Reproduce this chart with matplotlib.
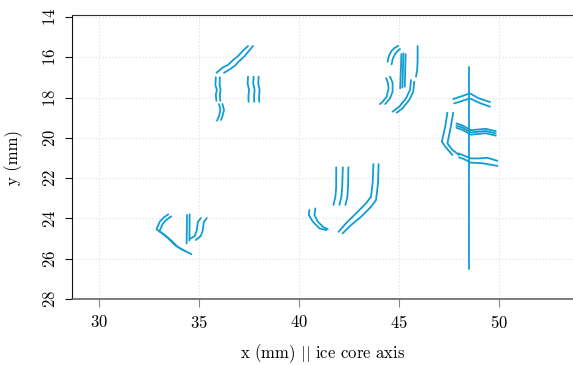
import matplotlib
matplotlib.use("Agg")
import matplotlib.pyplot as plt

plt.rcParams['font.family'] = 'serif'
plt.rcParams['font.serif'] = ['cmr10', 'DejaVu Serif']
plt.rcParams['mathtext.fontset'] = 'cm'
plt.rcParams['axes.formatter.use_mathtext'] = True

LINE_COLOR = '#109dd2'

# crack traces, each as (x list, y list) in mm
cracks = [
    # group top-left
    ([35.87, 36.20, 36.45, 36.70, 36.95, 37.20, 37.45], [16.77, 16.50, 16.38, 16.14, 15.94, 15.67, 15.44]),
    ([36.25, 36.53, 36.78, 37.03, 37.28, 37.53, 37.70], [16.77, 16.60, 16.43, 16.17, 15.94, 15.64, 15.44]),
    ([35.84, 35.82, 35.89, 35.84, 35.87], [16.99, 17.38, 17.62, 17.87, 18.16]),
    ([36.04, 36.03, 36.08, 36.04, 36.06], [16.99, 17.38, 17.62, 17.87, 18.16]),
    ([36.00, 36.07, 36.00, 35.90], [18.32, 18.62, 18.92, 19.15]),
    ([36.17, 36.25, 36.17, 36.10], [18.32, 18.62, 18.92, 19.11]),
    ([37.45, 37.43, 37.50, 37.47, 37.48], [16.96, 17.29, 17.62, 17.96, 18.21]),
    ([37.73, 37.71, 37.78, 37.75, 37.76], [16.96, 17.29, 17.62, 17.96, 18.21]),
    ([37.98, 37.96, 38.03, 38.00, 38.01], [16.96, 17.29, 17.62, 17.96, 18.21]),
    # group top-middle
    ([44.43, 44.48, 44.60, 44.76, 44.96], [16.22, 15.97, 15.72, 15.55, 15.43]),
    ([44.63, 44.68, 44.80, 44.93, 45.05], [16.35, 16.10, 15.84, 15.69, 15.59]),
    ([45.12, 45.06], [15.84, 17.54]),
    ([45.22, 45.17], [15.80, 17.50]),
    ([45.33, 45.29], [15.84, 17.46]),
    ([45.93, 45.93, 45.91, 45.85], [15.44, 16.14, 16.63, 16.96]),
    ([44.35, 44.43, 44.48, 44.38, 44.18, 44.05], [17.04, 17.21, 17.54, 17.96, 18.21, 18.32]),
    ([44.55, 44.68, 44.68, 44.55, 44.31], [16.96, 17.26, 17.71, 18.04, 18.32]),
    ([45.60, 45.55, 45.35, 45.01, 44.68], [17.13, 17.62, 18.04, 18.45, 18.70]),
    ([45.76, 45.71, 45.51, 45.18, 44.88], [17.21, 17.71, 18.12, 18.53, 18.75]),
    # group right
    ([48.50, 48.50], [16.50, 26.50]),
    ([47.71, 48.17, 48.54, 49.00, 49.55], [18.07, 17.92, 17.79, 18.04, 18.22]),
    ([47.76, 48.17, 48.54, 49.09, 49.55], [18.29, 18.16, 18.04, 18.29, 18.45]),
    ([47.42, 47.31, 47.14, 47.34, 47.67], [18.75, 19.45, 20.19, 20.47, 20.85]),
    ([47.71, 47.59, 47.42, 47.64, 48.00], [18.75, 19.45, 20.27, 20.57, 20.85]),
    ([47.87, 48.17, 48.59, 49.00, 49.34, 49.84], [19.28, 19.38, 19.62, 19.58, 19.55, 19.67]),
    ([47.87, 48.17, 48.59, 49.00, 49.34, 49.84], [19.39, 19.49, 19.73, 19.69, 19.66, 19.78]),
    ([47.87, 48.17, 48.59, 49.00, 49.34, 49.84], [19.50, 19.60, 19.84, 19.80, 19.77, 19.89]),
    ([47.97, 48.17, 48.59, 49.00, 49.42, 49.92], [20.77, 20.85, 21.02, 21.02, 20.99, 21.14]),
    ([48.00, 48.25, 48.59, 49.17, 49.92], [20.97, 21.05, 21.23, 21.26, 21.39]),
    # group bottom-left
    ([33.46, 33.24, 33.04, 32.87, 33.12, 33.46, 33.79, 34.20, 34.62], [23.80, 23.95, 24.16, 24.54, 24.71, 24.99, 25.32, 25.57, 25.77]),
    ([33.61, 33.39, 33.19, 33.02, 33.27, 33.61, 33.94, 34.30], [23.90, 24.05, 24.26, 24.64, 24.81, 25.09, 25.42, 25.62]),
    ([34.40, 34.38], [23.83, 25.24]),
    ([34.53, 34.52], [23.80, 25.10]),
    ([35.09, 34.94, 34.89, 34.79, 34.54], [23.98, 24.18, 24.58, 24.87, 25.02]),
    ([35.39, 35.24, 35.19, 35.09, 34.84], [23.98, 24.18, 24.58, 24.87, 25.07]),
    # group centre
    ([41.86, 41.86, 41.82, 41.72], [21.46, 22.43, 22.92, 23.33]),
    ([42.19, 42.16, 42.12, 42.02], [21.46, 22.43, 22.92, 23.33]),
    ([42.47, 42.45, 42.42, 42.32], [21.46, 22.43, 22.92, 23.33]),
    ([43.72, 43.68, 43.60, 43.35, 42.85, 42.35, 41.98], [21.30, 22.26, 22.92, 23.25, 23.75, 24.24, 24.66]),
    ([43.98, 43.95, 43.85, 43.60, 43.10, 42.60, 42.18], [21.30, 22.26, 23.09, 23.42, 23.92, 24.33, 24.74]),
    ([40.52, 40.49, 40.69, 41.02, 41.36], [23.58, 23.83, 24.16, 24.49, 24.58]),
    ([40.82, 40.77, 40.94, 41.19, 41.44], [23.50, 23.83, 24.16, 24.41, 24.54]),
]

x_ticks = [30, 35, 40, 45, 50]
y_ticks = [14, 16, 18, 20, 22, 24, 26, 28]

fig = plt.figure(figsize=(5.73, 3.65), dpi=100)
ax = fig.add_axes([0.1257, 0.1808, 0.8743, 0.7781])

for xs, ys in cracks:
    ax.plot(xs, ys, color=LINE_COLOR, lw=1.3, solid_capstyle='round')

ax.set_xlim(28.65, 53.7)
ax.set_ylim(28, 13.9)
ax.set_xticks(x_ticks)
ax.set_yticks(y_ticks)
ax.grid(True, color='#dddddd', linestyle=(0, (1, 2)), linewidth=0.8)
ax.set_axisbelow(True)

ax.spines['right'].set_visible(False)
ax.spines['top'].set_color('#333333')
ax.spines['left'].set_color('#111111')
ax.spines['bottom'].set_color('#666666')
ax.spines['bottom'].set_linestyle((0, (2, 1)))
ax.spines['bottom'].set_linewidth(1.2)

ax.tick_params(axis='x', direction='out', length=6, color='#888888', labelsize=12, pad=5)
ax.tick_params(axis='y', direction='out', length=5, color='#111111', labelsize=12, pad=5)
for lab in ax.get_yticklabels():
    lab.set_rotation(90)
    lab.set_va('center')

ax.set_xlabel(r'x (mm) $||$ ice core axis', fontsize=12, labelpad=8)
ax.set_ylabel('y (mm)', fontsize=12, labelpad=14)

fig.savefig('out.png', dpi=100)
